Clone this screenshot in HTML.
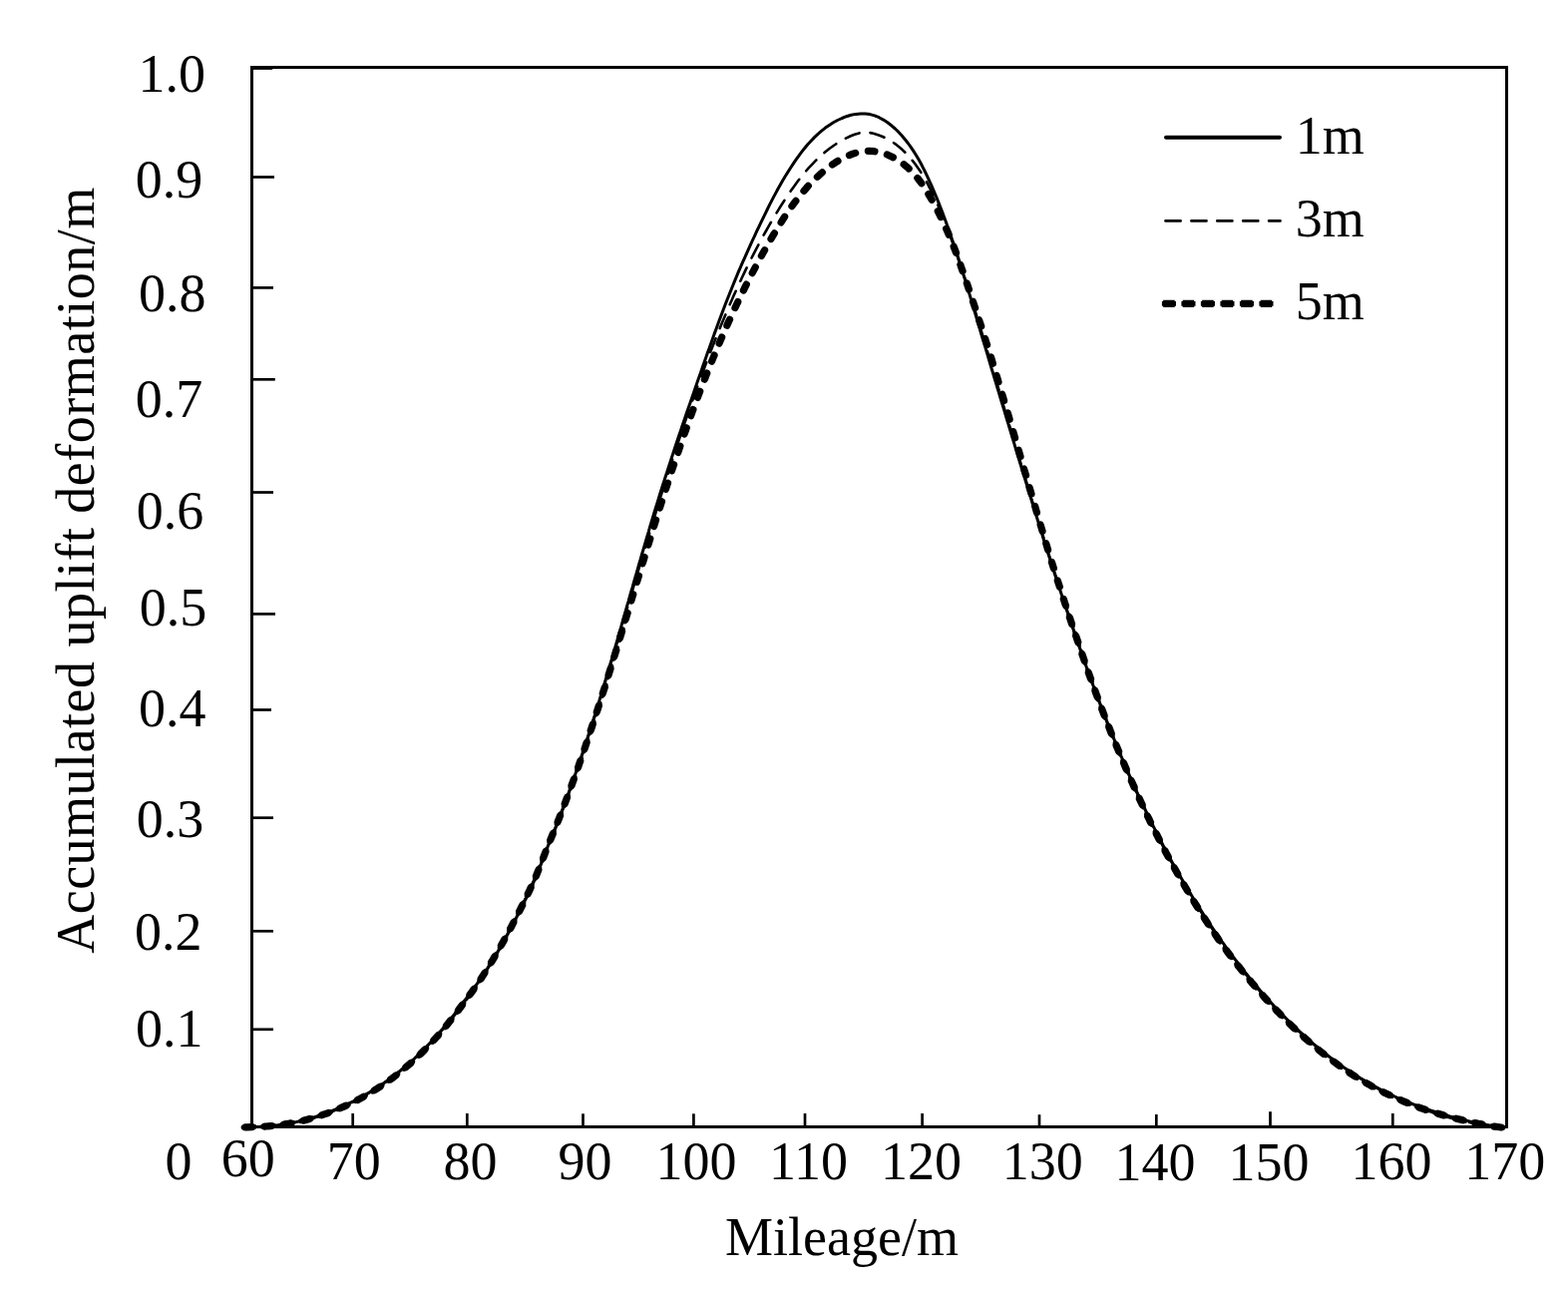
<!DOCTYPE html>
<html lang="en">
<head>
<meta charset="utf-8">
<title>Accumulated uplift deformation vs. mileage</title>
<style>
html,body{margin:0;padding:0;background:#fff;}
body{width:1572px;height:1292px;overflow:hidden;}
svg{display:block;}
text{font-family:"Liberation Serif",serif;font-size:54px;fill:#000;}
.ax{fill:none;stroke:#000;stroke-width:3;}
.tk{stroke:#000;stroke-width:2.7;fill:none;}
</style>
</head>
<body>
<svg width="1572" height="1292" viewBox="0 0 1572 1292">
<rect x="0" y="0" width="1572" height="1292" fill="#fff"/>
<g id="axes">
<rect class="ax" x="252.5" y="67.5" width="1258" height="1062"/>
<line class="tk" x1="253" y1="68.5" x2="273.2" y2="68.5" stroke-width="3.0"/>
<line class="tk" x1="253" y1="177.5" x2="275.0" y2="177.5" stroke-width="2.7"/>
<line class="tk" x1="253" y1="288.4" x2="274.0" y2="288.4" stroke-width="2.7"/>
<line class="tk" x1="253" y1="380.3" x2="275.8" y2="380.3" stroke-width="2.7"/>
<line class="tk" x1="253" y1="493.5" x2="274.0" y2="493.5" stroke-width="2.7"/>
<line class="tk" x1="253" y1="615.4" x2="276.0" y2="615.4" stroke-width="2.7"/>
<line class="tk" x1="253" y1="711.5" x2="272.0" y2="711.5" stroke-width="2.7"/>
<line class="tk" x1="253" y1="819.7" x2="274.0" y2="819.7" stroke-width="2.7"/>
<line class="tk" x1="253" y1="933.3" x2="274.0" y2="933.3" stroke-width="2.7"/>
<line class="tk" x1="253" y1="1031.8" x2="274.0" y2="1031.8" stroke-width="2.7"/>
<line class="tk" x1="353.7" y1="1129" x2="353.7" y2="1116.0" stroke-width="2.7"/>
<line class="tk" x1="468.3" y1="1129" x2="468.3" y2="1116.0" stroke-width="2.8"/>
<line class="tk" x1="584.5" y1="1129" x2="584.5" y2="1116.3" stroke-width="3.0"/>
<line class="tk" x1="695.4" y1="1129" x2="695.4" y2="1116.3" stroke-width="3.2"/>
<line class="tk" x1="807.0" y1="1129" x2="807.0" y2="1116.0" stroke-width="4.0"/>
<line class="tk" x1="924.6" y1="1129" x2="924.6" y2="1116.0" stroke-width="4.0"/>
<line class="tk" x1="1042.0" y1="1129" x2="1042.0" y2="1117.2" stroke-width="3.6"/>
<line class="tk" x1="1159.3" y1="1129" x2="1159.3" y2="1117.0" stroke-width="3.0"/>
<line class="tk" x1="1273.5" y1="1129" x2="1273.5" y2="1114.2" stroke-width="2.5"/>
<line class="tk" x1="1396.3" y1="1129" x2="1396.3" y2="1116.0" stroke-width="2.7"/>
</g>
<g id="curves" fill="none" stroke="#000" stroke-linejoin="round">
<path id="c1m" stroke-width="3" d="M252.5 1129.5L257.4 1129.4L262.2 1129.3L267.1 1129.0L271.9 1128.6L276.8 1128.1L281.6 1127.4L286.4 1126.7L291.1 1125.8L295.9 1124.9L300.6 1123.8L305.3 1122.6L310.0 1121.4L314.6 1120.0L319.2 1118.5L323.8 1116.9L328.3 1115.3L332.9 1113.5L337.3 1111.7L341.8 1109.7L346.2 1107.7L350.6 1105.7L354.9 1103.5L359.2 1101.3L363.4 1099.0L367.6 1096.6L371.8 1094.1L375.9 1091.6L380.0 1088.9L384.0 1086.2L387.9 1083.5L391.8 1080.6L395.7 1077.7L399.5 1074.8L403.2 1071.7L406.9 1068.6L410.5 1065.5L414.1 1062.3L417.6 1059.0L421.1 1055.7L424.5 1052.3L427.8 1048.9L431.2 1045.4L434.4 1041.8L437.7 1038.3L440.8 1034.6L444.0 1031.0L447.1 1027.2L450.1 1023.5L453.1 1019.7L456.1 1015.9L459.0 1012.0L461.9 1008.1L464.7 1004.2L467.7 1000.3L470.7 996.4L473.6 992.5L476.5 988.6L479.3 984.6L482.1 980.6L484.8 976.6L487.5 972.5L490.2 968.4L492.8 964.3L495.4 960.2L497.9 956.0L500.3 951.7L502.7 947.5L505.1 943.3L507.5 939.0L509.8 934.7L512.1 930.4L514.4 926.1L516.6 921.8L518.8 917.5L521.0 913.2L523.2 908.9L525.3 904.5L527.5 900.2L529.6 895.8L531.6 891.4L533.7 887.0L535.7 882.6L537.6 878.2L539.4 873.7L541.2 869.2L543.0 864.6L544.7 860.1L546.4 855.6L548.1 851.1L549.9 846.6L551.8 842.1L553.6 837.6L555.4 833.1L557.2 828.7L559.0 824.2L560.7 819.6L562.5 815.1L564.2 810.6L565.9 806.1L567.6 801.5L569.3 797.0L570.9 792.5L572.6 787.9L574.2 783.3L575.8 778.8L577.4 774.2L579.0 769.6L580.6 765.1L582.1 760.5L583.7 755.9L585.2 751.3L586.7 746.7L588.3 742.1L589.8 737.5L591.2 732.9L592.7 728.3L594.2 723.6L595.7 719.0L597.1 714.4L598.5 709.8L600.0 705.1L601.4 700.5L602.8 695.9L604.2 691.2L605.6 686.6L607.0 681.9L608.4 677.3L609.8 672.7L611.1 668.0L612.5 663.4L613.9 658.7L615.2 654.1L616.6 649.4L617.9 644.8L619.3 640.1L620.6 635.4L622.0 630.8L623.3 626.1L624.6 621.5L626.0 616.8L627.3 612.2L628.6 607.5L630.0 602.9L631.3 598.2L632.6 593.5L634.0 588.9L635.3 584.2L636.6 579.6L638.0 574.9L639.3 570.3L640.6 565.6L642.0 561.0L643.3 556.3L644.7 551.7L646.1 547.0L647.4 542.4L648.8 537.7L650.2 533.1L651.5 528.4L652.9 523.8L654.3 519.1L655.7 514.5L657.1 509.9L658.6 505.2L660.0 500.6L661.4 496.0L662.9 491.3L664.3 486.7L665.8 482.1L667.3 477.5L668.8 472.9L670.3 468.2L671.8 463.6L673.3 459.0L674.8 454.4L676.3 449.8L677.8 445.2L679.4 440.6L680.9 436.0L682.5 431.4L684.0 426.8L685.6 422.2L687.2 417.6L688.7 413.0L690.3 408.5L691.9 403.9L693.5 399.3L695.1 394.7L696.7 390.1L698.2 385.6L699.8 381.0L701.4 376.4L703.0 371.9L704.6 367.3L706.2 362.7L707.8 358.2L709.4 353.6L711.1 349.1L712.7 344.5L714.3 340.0L715.9 335.4L717.6 330.9L719.2 326.4L720.9 321.8L722.6 317.3L724.3 312.8L726.0 308.2L727.7 303.7L729.5 299.2L731.3 294.7L733.1 290.2L734.9 285.7L736.8 281.2L738.6 276.7L740.5 272.2L742.5 267.7L744.4 263.2L746.4 258.8L748.4 254.3L750.4 249.9L752.4 245.4L754.4 241.0L756.5 236.6L758.5 232.2L760.6 227.8L762.7 223.4L764.8 219.1L766.9 214.8L769.0 210.5L771.1 206.2L773.3 201.9L775.5 197.6L777.8 193.4L780.0 189.2L782.4 185.0L784.8 180.8L787.2 176.7L789.8 172.6L792.4 168.5L795.1 164.4L797.8 160.3L800.7 156.3L803.6 152.4L806.7 148.5L809.8 144.8L813.1 141.2L816.5 137.6L820.0 134.3L823.7 131.1L827.5 128.1L831.4 125.4L835.5 122.8L839.7 120.5L844.1 118.5L848.6 116.7L853.3 115.3L858.0 114.4L862.7 113.9L867.5 113.9L872.2 114.6L876.8 115.9L881.3 117.7L885.6 120.1L889.8 122.8L893.7 125.8L897.4 129.0L900.9 132.4L904.2 136.0L907.3 139.7L910.3 143.5L913.1 147.4L915.8 151.4L918.4 155.5L920.8 159.6L923.2 163.8L925.4 168.1L927.6 172.5L929.7 176.8L931.7 181.3L933.7 185.7L935.6 190.2L937.5 194.6L939.4 199.1L941.2 203.6L942.9 208.1L944.7 212.6L946.4 217.2L948.1 221.7L949.7 226.3L951.4 230.8L953.0 235.4L954.5 240.0L956.1 244.5L957.6 249.1L959.1 253.7L960.6 258.3L962.1 263.0L963.6 267.6L965.0 272.2L966.4 276.8L967.9 281.4L969.3 286.1L970.7 290.7L972.1 295.4L973.5 300.0L974.8 304.6L976.2 309.3L977.6 313.9L979.0 318.6L980.4 323.2L981.8 327.9L983.1 332.5L984.5 337.2L985.9 341.8L987.3 346.4L988.7 351.1L990.1 355.7L991.4 360.4L992.8 365.0L994.2 369.7L995.6 374.3L997.0 379.0L998.4 383.6L999.8 388.2L1001.2 392.9L1002.6 397.5L1004.0 402.2L1005.4 406.8L1006.8 411.4L1008.2 416.1L1009.6 420.7L1011.0 425.4L1012.4 430.0L1013.8 434.6L1015.2 439.3L1016.6 443.9L1018.0 448.6L1019.4 453.2L1020.8 457.8L1022.2 462.5L1023.6 467.1L1025.0 471.7L1026.5 476.4L1027.9 481.0L1029.3 485.6L1030.7 490.3L1032.2 494.9L1033.6 499.5L1035.0 504.2L1036.4 508.8L1037.9 513.4L1039.3 518.0L1040.8 522.7L1042.2 527.3L1043.6 531.9L1045.1 536.5L1046.5 541.2L1048.0 545.8L1049.4 550.4L1050.9 555.0L1052.4 559.6L1053.8 564.2L1055.3 568.8L1056.8 573.4L1058.3 578.1L1059.8 582.7L1061.4 587.3L1062.9 591.8L1064.4 596.4L1065.9 601.0L1067.5 605.6L1069.0 610.2L1070.6 614.8L1072.1 619.4L1073.7 624.0L1075.3 628.5L1076.8 633.1L1078.4 637.7L1080.0 642.3L1081.6 646.8L1083.2 651.4L1084.8 656.0L1086.4 660.5L1088.0 665.1L1089.6 669.7L1091.3 674.2L1092.9 678.8L1094.6 683.3L1096.3 687.9L1098.0 692.4L1099.7 697.0L1101.4 701.5L1103.1 706.0L1104.8 710.5L1106.6 715.1L1108.4 719.6L1110.1 724.1L1111.9 728.6L1113.7 733.1L1115.6 737.6L1117.4 742.1L1119.2 746.6L1121.1 751.1L1123.0 755.5L1124.9 760.0L1126.8 764.4L1128.7 768.9L1130.7 773.3L1132.6 777.8L1134.6 782.2L1136.6 786.6L1138.6 791.1L1140.6 795.5L1142.6 799.9L1144.7 804.3L1146.7 808.6L1148.8 813.0L1150.9 817.4L1153.1 821.7L1155.2 826.1L1157.4 830.4L1159.5 834.7L1161.8 839.0L1164.0 843.3L1166.2 847.6L1168.5 851.9L1170.8 856.2L1173.1 860.4L1175.4 864.6L1177.8 868.9L1180.2 873.1L1182.6 877.3L1185.0 881.5L1187.4 885.6L1189.9 889.8L1192.4 893.9L1194.9 898.1L1197.4 902.2L1200.0 906.3L1202.6 910.4L1205.2 914.4L1207.8 918.5L1210.5 922.5L1213.2 926.6L1215.9 930.6L1218.6 934.5L1221.4 938.5L1224.2 942.5L1227.0 946.4L1229.8 950.3L1232.7 954.2L1235.6 958.1L1238.5 962.0L1241.5 965.8L1244.4 969.7L1247.4 973.5L1250.5 977.3L1253.5 981.1L1256.6 984.8L1259.8 988.5L1262.9 992.3L1266.1 995.9L1269.3 999.6L1272.6 1003.2L1275.9 1006.8L1279.2 1010.4L1282.6 1013.9L1286.0 1017.4L1289.4 1020.9L1292.9 1024.3L1296.3 1027.7L1299.9 1031.1L1303.4 1034.4L1307.0 1037.7L1310.6 1040.9L1314.3 1044.1L1318.0 1047.3L1321.7 1050.4L1325.5 1053.5L1329.3 1056.5L1333.1 1059.5L1337.0 1062.4L1340.9 1065.3L1344.8 1068.1L1348.8 1070.9L1352.8 1073.6L1356.8 1076.2L1360.9 1078.8L1365.0 1081.4L1369.2 1083.8L1373.4 1086.3L1377.6 1088.6L1381.9 1090.9L1386.2 1093.2L1390.5 1095.3L1394.9 1097.5L1399.3 1099.5L1403.7 1101.5L1408.2 1103.4L1412.7 1105.2L1417.2 1107.0L1421.8 1108.7L1426.4 1110.3L1431.0 1111.9L1435.6 1113.5L1440.2 1115.0L1444.8 1116.4L1449.5 1117.8L1454.2 1119.1L1458.9 1120.4L1463.6 1121.6L1468.3 1122.8L1473.0 1123.9L1477.7 1124.9L1482.5 1125.9L1487.2 1126.9L1492.0 1127.8L1496.7 1128.7L1501.5 1129.5"/>
<path id="c3m" stroke-width="2.6" stroke-linecap="round" stroke-dasharray="14.80 11.00" stroke-dashoffset="24.30" d="M252.5 1129.5L257.5 1129.5L262.6 1129.3L267.5 1129.0L272.4 1128.6L277.3 1128.1L282.2 1127.5L287.0 1126.8L291.8 1126.0L296.5 1125.1L301.2 1124.1L305.8 1122.9L310.4 1121.7L315.0 1120.4L319.5 1119.0L324.0 1117.5L328.4 1115.9L332.8 1114.2L337.2 1112.4L341.5 1110.5L345.8 1108.5L350.0 1106.5L354.2 1104.4L358.4 1102.2L362.5 1099.9L366.5 1097.5L370.6 1095.1L374.6 1092.6L378.5 1090.0L382.4 1087.4L386.3 1084.6L390.1 1081.8L393.9 1079.0L397.7 1076.1L401.4 1073.1L405.0 1070.1L408.7 1067.0L412.2 1063.8L415.8 1060.6L419.3 1057.4L422.7 1054.0L426.2 1050.7L429.5 1047.3L432.9 1043.8L436.2 1040.3L439.4 1036.8L442.6 1033.2L445.8 1029.6L448.9 1025.9L452.0 1022.2L455.0 1018.5L458.0 1014.7L461.0 1010.9L463.9 1007.1L466.8 1003.2L469.6 999.3L472.4 995.4L475.2 991.5L477.9 987.5L480.6 983.5L483.2 979.5L485.8 975.5L488.4 971.5L490.9 967.4L493.4 963.3L495.8 959.2L498.3 955.1L500.7 951.0L503.0 946.8L505.3 942.6L507.6 938.4L509.9 934.2L512.1 930.0L514.3 925.8L516.5 921.5L518.7 917.2L520.8 913.0L522.9 908.7L525.0 904.4L527.0 900.1L529.0 895.7L531.1 891.4L533.0 887.1L535.0 882.7L536.9 878.4L538.9 874.0L540.8 869.6L542.6 865.2L544.5 860.8L546.4 856.4L548.2 852.0L550.0 847.6L551.8 843.2L553.6 838.8L555.3 834.3L557.1 829.9L558.8 825.5L560.5 821.0L562.2 816.6L563.9 812.1L565.6 807.6L567.2 803.2L568.9 798.7L570.5 794.2L572.1 789.7L573.7 785.2L575.3 780.7L576.9 776.2L578.4 771.7L580.0 767.2L581.5 762.7L583.1 758.1L584.6 753.6L586.1 749.1L587.6 744.6L589.1 740.0L590.5 735.5L592.0 730.9L593.5 726.4L594.9 721.8L596.4 717.3L597.8 712.7L599.2 708.2L600.7 703.6L602.1 699.0L603.5 694.5L604.9 689.9L606.3 685.3L607.7 680.7L609.1 676.2L610.5 671.6L611.8 667.0L613.2 662.4L614.6 657.8L615.9 653.2L617.3 648.7L618.7 644.1L620.0 639.5L621.4 634.9L622.7 630.3L624.1 625.7L625.4 621.1L626.8 616.5L628.1 611.9L629.5 607.4L630.8 602.8L632.2 598.2L633.6 593.6L634.9 589.0L636.3 584.4L637.6 579.8L639.0 575.2L640.3 570.6L641.7 566.1L643.1 561.5L644.4 556.9L645.8 552.3L647.2 547.7L648.5 543.1L649.9 538.6L651.3 534.0L652.7 529.4L654.1 524.8L655.5 520.3L656.9 515.7L658.3 511.1L659.7 506.5L661.1 502.0L662.5 497.4L663.9 492.9L665.4 488.3L666.8 483.7L668.2 479.2L669.7 474.6L671.1 470.1L672.6 465.5L674.1 461.0L675.6 456.4L677.0 451.9L678.5 447.4L680.0 442.8L681.6 438.3L683.1 433.8L684.6 429.3L686.1 424.7L687.7 420.2L689.2 415.7L690.8 411.2L692.4 406.7L694.0 402.2L695.6 397.7L697.2 393.2L698.8 388.7L700.4 384.2L702.1 379.7L703.7 375.3L705.4 370.8L707.1 366.3L708.8 361.9L710.5 357.4L712.2 352.9L713.9 348.5L715.7 344.1L717.4 339.6L719.2 335.2L721.0 330.8L722.8 326.3L724.6 321.9L726.5 317.5L728.3 313.1L730.2 308.7L732.1 304.3L734.0 300.0L735.9 295.6L737.9 291.3L739.9 286.9L741.9 282.6L743.9 278.3L746.0 273.9L748.0 269.6L750.2 265.4L752.3 261.1L754.4 256.8L756.6 252.6L758.8 248.3L761.1 244.1L763.3 239.9L765.6 235.7L768.0 231.5L770.3 227.4L772.7 223.2L775.2 219.1L777.6 215.0L780.1 210.9L782.6 206.8L785.2 202.8L787.8 198.7L790.5 194.7L793.2 190.8L796.0 186.9L798.8 183.0L801.7 179.2L804.7 175.5L807.7 171.8L810.9 168.2L814.1 164.8L817.4 161.4L820.8 158.1L824.4 154.9L828.0 151.8L831.8 148.8L835.7 146.0L839.7 143.3L843.8 140.8L848.0 138.6L852.4 136.5L856.8 134.7L861.4 133.4L866.1 132.7L870.8 132.8L875.6 133.7L880.3 135.2L884.9 137.0L889.2 139.0L893.3 141.4L897.3 144.1L901.0 147.0L904.6 150.1L908.1 153.4L911.3 156.9L914.4 160.5L917.4 164.3L920.2 168.2L922.9 172.1L925.4 176.2L927.8 180.3L930.1 184.5L932.3 188.8L934.5 193.1L936.5 197.4L938.5 201.8L940.5 206.1L942.4 210.5L944.2 214.9L946.0 219.4L947.8 223.8L949.5 228.3L951.2 232.7L952.9 237.2L954.5 241.7L956.1 246.2L957.7 250.7L959.3 255.2L960.8 259.7L962.3 264.2L963.8 268.8L965.3 273.3L966.8 277.8L968.3 282.4L969.8 286.9L971.3 291.4L972.7 296.0L974.1 300.6L975.6 305.1L977.0 309.7L978.4 314.2L979.8 318.8L981.2 323.4L982.6 327.9L984.0 332.5L985.4 337.1L986.8 341.6L988.1 346.2L989.5 350.8L990.9 355.4L992.2 360.0L993.6 364.5L995.0 369.1L996.3 373.7L997.7 378.3L999.0 382.9L1000.4 387.4L1001.8 392.0L1003.1 396.6L1004.5 401.2L1005.8 405.8L1007.2 410.4L1008.6 414.9L1009.9 419.5L1011.3 424.1L1012.7 428.7L1014.0 433.3L1015.4 437.9L1016.8 442.4L1018.1 447.0L1019.5 451.6L1020.9 456.2L1022.3 460.8L1023.6 465.3L1025.0 469.9L1026.4 474.5L1027.8 479.1L1029.2 483.6L1030.6 488.2L1032.0 492.8L1033.3 497.4L1034.7 501.9L1036.2 506.5L1037.6 511.1L1039.0 515.6L1040.4 520.2L1041.8 524.8L1043.2 529.3L1044.6 533.9L1046.1 538.5L1047.5 543.0L1048.9 547.6L1050.4 552.2L1051.8 556.7L1053.3 561.3L1054.7 565.8L1056.2 570.4L1057.7 574.9L1059.1 579.5L1060.6 584.0L1062.1 588.6L1063.6 593.1L1065.1 597.6L1066.6 602.2L1068.1 606.7L1069.6 611.2L1071.1 615.8L1072.6 620.3L1074.2 624.8L1075.7 629.4L1077.2 633.9L1078.8 638.4L1080.3 642.9L1081.9 647.4L1083.5 651.9L1085.0 656.4L1086.6 661.0L1088.2 665.5L1089.8 670.0L1091.4 674.4L1093.1 678.9L1094.7 683.4L1096.3 687.9L1098.0 692.4L1099.6 696.9L1101.3 701.3L1103.0 705.8L1104.7 710.3L1106.4 714.7L1108.1 719.2L1109.8 723.6L1111.6 728.1L1113.3 732.5L1115.1 736.9L1116.9 741.4L1118.7 745.8L1120.5 750.2L1122.3 754.6L1124.1 759.0L1126.0 763.4L1127.9 767.8L1129.8 772.2L1131.7 776.5L1133.6 780.9L1135.5 785.3L1137.5 789.6L1139.4 794.0L1141.4 798.3L1143.4 802.6L1145.4 806.9L1147.5 811.3L1149.5 815.6L1151.6 819.9L1153.7 824.1L1155.8 828.4L1157.9 832.7L1160.1 836.9L1162.3 841.2L1164.5 845.4L1166.7 849.7L1168.9 853.9L1171.2 858.1L1173.5 862.3L1175.8 866.5L1178.1 870.7L1180.5 874.9L1182.8 879.0L1185.2 883.2L1187.7 887.3L1190.1 891.4L1192.6 895.6L1195.1 899.7L1197.6 903.8L1200.1 907.8L1202.7 911.9L1205.3 916.0L1207.9 920.0L1210.6 924.0L1213.3 928.0L1216.0 932.0L1218.7 936.0L1221.4 940.0L1224.2 943.9L1227.0 947.8L1229.9 951.7L1232.7 955.6L1235.6 959.5L1238.5 963.3L1241.5 967.1L1244.4 970.9L1247.4 974.7L1250.4 978.4L1253.5 982.1L1256.6 985.8L1259.7 989.4L1262.8 993.1L1266.0 996.7L1269.2 1000.2L1272.4 1003.8L1275.6 1007.3L1278.9 1010.7L1282.2 1014.2L1285.5 1017.6L1288.9 1021.0L1292.3 1024.3L1295.7 1027.6L1299.2 1030.8L1302.6 1034.1L1306.1 1037.3L1309.7 1040.4L1313.2 1043.5L1316.8 1046.6L1320.5 1049.6L1324.1 1052.6L1327.8 1055.5L1331.5 1058.4L1335.3 1061.3L1339.1 1064.1L1342.9 1066.9L1346.7 1069.6L1350.6 1072.2L1354.5 1074.9L1358.4 1077.4L1362.4 1079.9L1366.4 1082.4L1370.4 1084.8L1374.5 1087.2L1378.6 1089.5L1382.7 1091.8L1386.8 1094.0L1391.0 1096.2L1395.2 1098.3L1399.5 1100.3L1403.8 1102.3L1408.1 1104.2L1412.5 1106.1L1416.8 1107.9L1421.2 1109.6L1425.7 1111.3L1430.2 1113.0L1434.7 1114.5L1439.2 1116.0L1443.8 1117.5L1448.4 1118.8L1453.1 1120.2L1457.8 1121.4L1462.5 1122.6L1467.3 1123.7L1472.0 1124.7L1476.9 1125.7L1481.7 1126.6L1486.6 1127.4L1491.5 1128.2L1496.5 1128.9L1501.5 1129.5"/>
<path id="c5m" stroke-width="7.2" stroke-linecap="round" stroke-dasharray="6.60 12.88" stroke-dashoffset="17.35" d="M244.0 1130.0L247.6 1129.9L257.2 1129.4L261.9 1129.3L266.7 1129.0L271.4 1128.6L276.1 1128.1L280.7 1127.6L285.4 1126.9L290.1 1126.1L294.7 1125.2L299.3 1124.2L303.9 1123.2L308.5 1122.0L313.0 1120.7L317.6 1119.4L322.1 1117.9L326.6 1116.4L331.0 1114.8L335.4 1113.1L339.8 1111.3L344.2 1109.4L348.5 1107.5L352.8 1105.4L357.0 1103.3L361.2 1101.1L365.3 1098.8L369.4 1096.4L373.5 1094.0L377.5 1091.5L381.5 1088.9L385.4 1086.3L389.2 1083.6L393.1 1080.8L396.8 1078.0L400.5 1075.1L404.1 1072.1L407.7 1069.1L411.3 1066.0L414.8 1062.9L418.2 1059.7L421.6 1056.4L424.9 1053.1L428.2 1049.8L431.4 1046.4L434.6 1042.9L437.8 1039.4L440.9 1035.9L443.9 1032.3L446.9 1028.7L449.9 1025.0L452.8 1021.3L455.7 1017.6L458.6 1013.8L461.4 1010.0L464.2 1006.2L467.0 1002.4L469.8 998.6L472.6 994.8L475.4 990.9L478.1 987.0L480.8 983.1L483.4 979.1L486.0 975.1L488.5 971.1L491.0 967.0L493.5 963.0L495.9 958.9L498.3 954.8L500.7 950.7L503.0 946.5L505.3 942.4L507.6 938.2L509.8 934.1L512.1 929.9L514.3 925.7L516.5 921.5L518.6 917.3L520.8 913.1L522.9 908.9L525.0 904.7L527.0 900.4L529.1 896.2L531.1 891.9L533.1 887.6L535.1 883.4L537.0 879.1L538.8 874.7L540.5 870.3L542.3 865.9L544.0 861.5L545.7 857.1L547.4 852.7L549.1 848.3L550.9 844.0L552.7 839.6L554.5 835.3L556.3 830.9L558.0 826.5L559.8 822.2L561.5 817.8L563.2 813.4L564.9 809.0L566.6 804.6L568.2 800.2L569.9 795.8L571.5 791.3L573.2 786.9L574.8 782.5L576.4 778.1L578.0 773.6L579.6 769.2L581.1 764.7L582.7 760.3L584.2 755.8L585.8 751.4L587.3 746.9L588.8 742.4L590.3 737.9L591.8 733.5L593.3 729.0L594.8 724.5L596.3 720.0L597.7 715.5L599.2 711.0L600.6 706.6L602.1 702.1L603.5 697.6L604.9 693.1L606.4 688.6L607.8 684.1L609.2 679.5L610.6 675.0L612.0 670.5L613.4 666.0L614.8 661.5L616.2 657.0L617.6 652.5L618.9 648.0L620.3 643.5L621.7 638.9L623.1 634.4L624.5 629.9L625.8 625.4L627.2 620.9L628.6 616.3L629.9 611.8L631.3 607.3L632.7 602.8L634.0 598.3L635.4 593.8L636.8 589.2L638.1 584.7L639.5 580.2L640.9 575.7L642.2 571.2L643.6 566.6L645.0 562.1L646.4 557.6L647.7 553.1L649.1 548.6L650.5 544.1L651.9 539.6L653.3 535.1L654.7 530.6L656.1 526.0L657.5 521.5L658.9 517.0L660.4 512.5L661.8 508.0L663.2 503.5L664.6 499.1L666.1 494.6L667.5 490.1L669.0 485.6L670.5 481.1L671.9 476.6L673.4 472.1L674.9 467.7L676.4 463.2L677.9 458.7L679.4 454.3L681.0 449.8L682.5 445.3L684.0 440.9L685.6 436.4L687.2 432.0L688.7 427.5L690.3 423.1L691.9 418.7L693.5 414.2L695.2 409.8L696.8 405.4L698.5 400.9L700.1 396.5L701.8 392.1L703.5 387.7L705.2 383.3L706.9 378.9L708.6 374.5L710.4 370.1L712.1 365.7L713.9 361.4L715.7 357.0L717.5 352.6L719.3 348.3L721.2 343.9L723.0 339.6L724.9 335.3L726.8 330.9L728.7 326.6L730.6 322.3L732.6 318.0L734.6 313.7L736.6 309.4L738.6 305.1L740.6 300.9L742.6 296.6L744.7 292.4L746.8 288.2L748.9 284.0L751.0 279.7L753.2 275.6L755.4 271.4L757.6 267.2L759.8 263.1L762.0 258.9L764.3 254.8L766.6 250.7L768.9 246.6L771.3 242.5L773.6 238.4L776.0 234.4L778.5 230.4L780.9 226.3L783.4 222.4L785.9 218.4L788.5 214.5L791.2 210.6L793.9 206.7L796.7 202.9L799.5 199.2L802.5 195.5L805.5 191.9L808.6 188.3L811.8 184.8L815.1 181.4L818.6 178.0L822.1 174.8L825.8 171.6L829.6 168.5L833.5 165.6L837.5 162.9L841.6 160.4L845.8 158.1L850.1 156.1L854.4 154.4L858.7 153.0L863.2 152.1L867.6 151.5L872.1 151.3L876.6 151.7L881.1 152.4L885.6 153.6L890.0 155.2L894.3 157.2L898.5 159.5L902.6 162.1L906.4 164.9L910.1 168.0L913.6 171.3L916.8 174.8L919.9 178.5L922.8 182.3L925.5 186.2L928.2 190.2L930.7 194.3L933.1 198.4L935.5 202.6L937.7 206.7L939.9 210.9L942.0 215.2L944.1 219.4L946.1 223.7L948.1 228.0L950.0 232.3L951.8 236.6L953.6 240.9L955.4 245.3L957.1 249.6L958.7 254.0L960.4 258.4L962.0 262.9L963.5 267.3L965.1 271.7L966.7 276.1L968.2 280.6L969.7 285.0L971.2 289.5L972.7 294.0L974.2 298.4L975.7 302.9L977.2 307.3L978.7 311.8L980.2 316.3L981.6 320.8L983.1 325.2L984.6 329.7L986.0 334.2L987.4 338.7L988.8 343.2L990.3 347.7L991.7 352.2L993.1 356.7L994.5 361.3L995.8 365.8L997.2 370.3L998.6 374.8L1000.0 379.3L1001.3 383.9L1002.7 388.4L1004.0 392.9L1005.4 397.4L1006.7 402.0L1008.1 406.5L1009.4 411.0L1010.8 415.6L1012.1 420.1L1013.4 424.6L1014.8 429.1L1016.1 433.7L1017.4 438.2L1018.7 442.8L1020.1 447.3L1021.4 451.8L1022.7 456.4L1024.0 460.9L1025.3 465.4L1026.6 470.0L1028.0 474.5L1029.3 479.0L1030.6 483.6L1031.9 488.1L1033.3 492.6L1034.6 497.1L1035.9 501.7L1037.3 506.2L1038.6 510.7L1039.9 515.2L1041.3 519.8L1042.6 524.3L1044.0 528.8L1045.3 533.3L1046.7 537.8L1048.0 542.4L1049.4 546.9L1050.7 551.4L1052.1 555.9L1053.5 560.4L1054.9 564.9L1056.3 569.4L1057.7 573.9L1059.2 578.4L1060.6 582.9L1062.1 587.4L1063.5 591.9L1065.0 596.3L1066.4 600.8L1067.9 605.3L1069.4 609.8L1070.8 614.3L1072.3 618.7L1073.8 623.2L1075.4 627.7L1076.9 632.1L1078.4 636.6L1079.9 641.0L1081.4 645.5L1082.9 650.0L1084.4 654.4L1086.0 658.9L1087.5 663.3L1089.1 667.8L1090.6 672.2L1092.2 676.7L1093.8 681.1L1095.4 685.6L1097.0 690.0L1098.6 694.4L1100.3 698.9L1101.9 703.3L1103.6 707.7L1105.2 712.1L1106.9 716.5L1108.6 720.9L1110.3 725.3L1112.1 729.7L1113.8 734.1L1115.6 738.5L1117.4 742.9L1119.2 747.3L1121.0 751.6L1122.8 756.0L1124.6 760.3L1126.5 764.7L1128.3 769.0L1130.2 773.3L1132.1 777.7L1134.0 782.0L1135.9 786.3L1137.9 790.6L1139.8 794.9L1141.7 799.2L1143.7 803.5L1145.7 807.8L1147.7 812.1L1149.7 816.4L1151.8 820.6L1153.8 824.9L1155.9 829.1L1158.0 833.3L1160.2 837.5L1162.3 841.7L1164.5 845.9L1166.6 850.1L1168.8 854.3L1171.1 858.5L1173.3 862.6L1175.6 866.7L1177.9 870.9L1180.2 875.0L1182.5 879.1L1184.9 883.2L1187.2 887.2L1189.6 891.3L1192.0 895.4L1194.4 899.4L1196.9 903.5L1199.4 907.5L1201.8 911.5L1204.4 915.5L1206.9 919.5L1209.5 923.4L1212.0 927.4L1214.7 931.3L1217.3 935.2L1220.0 939.1L1222.6 943.0L1225.4 946.9L1228.1 950.7L1230.9 954.5L1233.8 958.3L1236.6 962.1L1239.5 965.8L1242.5 969.6L1245.4 973.3L1248.4 977.0L1251.4 980.6L1254.4 984.3L1257.5 987.9L1260.6 991.5L1263.7 995.1L1266.8 998.7L1270.0 1002.2L1273.2 1005.7L1276.4 1009.2L1279.7 1012.7L1283.0 1016.1L1286.3 1019.5L1289.6 1022.9L1293.0 1026.3L1296.4 1029.6L1299.9 1032.8L1303.4 1036.1L1306.9 1039.3L1310.4 1042.4L1314.0 1045.6L1317.6 1048.6L1321.2 1051.7L1324.9 1054.7L1328.6 1057.6L1332.3 1060.5L1336.1 1063.4L1339.9 1066.2L1343.8 1069.0L1347.6 1071.7L1351.5 1074.3L1355.5 1076.9L1359.5 1079.5L1363.5 1082.0L1367.6 1084.4L1371.7 1086.7L1375.9 1089.0L1380.1 1091.2L1384.3 1093.4L1388.5 1095.5L1392.8 1097.5L1397.1 1099.5L1401.5 1101.4L1405.8 1103.3L1410.2 1105.1L1414.6 1106.9L1419.0 1108.6L1423.5 1110.3L1428.0 1111.9L1432.5 1113.4L1437.0 1114.8L1441.6 1116.2L1446.1 1117.5L1450.7 1118.8L1455.3 1120.0L1459.9 1121.2L1464.5 1122.3L1469.1 1123.4L1473.7 1124.4L1478.3 1125.4L1482.9 1126.4L1487.6 1127.3L1492.2 1128.1L1496.8 1128.9L1501.5 1129.5L1507.0 1130.3"/>
<path id="c5m-a" stroke-width="5.0" stroke-linecap="round" stroke-dasharray="11.40 8.08" stroke-dashoffset="0.27" d="M244.0 1130.0L247.6 1129.9L257.2 1129.4L261.9 1129.3L266.7 1129.0L271.4 1128.6L276.1 1128.1L280.7 1127.6L285.4 1126.9L290.1 1126.1L294.7 1125.2L299.3 1124.2L303.9 1123.2L308.5 1122.0L313.0 1120.7L317.6 1119.4L322.1 1117.9L326.6 1116.4L331.0 1114.8L335.4 1113.1L339.8 1111.3L344.2 1109.4L348.5 1107.5L352.8 1105.4L357.0 1103.3L361.2 1101.1L365.3 1098.8L369.4 1096.4L373.5 1094.0L377.5 1091.5L381.5 1088.9L385.4 1086.3L389.2 1083.6L393.1 1080.8L396.8 1078.0L400.5 1075.1L404.1 1072.1L407.7 1069.1L411.3 1066.0L414.8 1062.9L418.2 1059.7L421.6 1056.4L424.9 1053.1L428.2 1049.8L431.4 1046.4L434.6 1042.9L437.8 1039.4L440.9 1035.9L443.9 1032.3L446.9 1028.7L449.9 1025.0L452.8 1021.3L455.7 1017.6L458.6 1013.8L461.4 1010.0L464.2 1006.2L467.0 1002.4L469.8 998.6L472.6 994.8L475.4 990.9L478.1 987.0L480.8 983.1L483.4 979.1L486.0 975.1L488.5 971.1L491.0 967.0L493.5 963.0L495.9 958.9L498.3 954.8L500.7 950.7L503.0 946.5L505.3 942.4L507.6 938.2L509.8 934.1L512.1 929.9L514.3 925.7L516.5 921.5L518.6 917.3L520.8 913.1L522.9 908.9L525.0 904.7L527.0 900.4L529.1 896.2L531.1 891.9L533.1 887.6L535.1 883.4L537.0 879.1L538.8 874.7L540.5 870.3L542.3 865.9L544.0 861.5L545.7 857.1L547.4 852.7L549.1 848.3L550.9 844.0L552.7 839.6L554.5 835.3L556.3 830.9L558.0 826.5L559.8 822.2L561.5 817.8L563.2 813.4L564.9 809.0L566.6 804.6L568.2 800.2L569.9 795.8L571.5 791.3L573.2 786.9L574.8 782.5L576.4 778.1L578.0 773.6L579.6 769.2L581.1 764.7L582.7 760.3L584.2 755.8L585.8 751.4L587.3 746.9L588.8 742.4L590.3 737.9L591.8 733.5L593.3 729.0L594.8 724.5L596.3 720.0L597.7 715.5L599.2 711.0L600.6 706.6L602.1 702.1L603.5 697.6L604.9 693.1L606.4 688.6L607.8 684.1L609.2 679.5L610.6 675.0L612.0 670.5L613.4 666.0L614.8 661.5L616.2 657.0L617.6 652.5L618.9 648.0L620.3 643.5L621.7 638.9L623.1 634.4L624.5 629.9L625.8 625.4L627.2 620.9"/>
<path id="c5m-b" stroke-width="5.0" stroke-linecap="round" stroke-dasharray="11.40 8.08" stroke-dashoffset="2.74" d="M1066.4 600.8L1067.9 605.3L1069.4 609.8L1070.8 614.3L1072.3 618.7L1073.8 623.2L1075.4 627.7L1076.9 632.1L1078.4 636.6L1079.9 641.0L1081.4 645.5L1082.9 650.0L1084.4 654.4L1086.0 658.9L1087.5 663.3L1089.1 667.8L1090.6 672.2L1092.2 676.7L1093.8 681.1L1095.4 685.6L1097.0 690.0L1098.6 694.4L1100.3 698.9L1101.9 703.3L1103.6 707.7L1105.2 712.1L1106.9 716.5L1108.6 720.9L1110.3 725.3L1112.1 729.7L1113.8 734.1L1115.6 738.5L1117.4 742.9L1119.2 747.3L1121.0 751.6L1122.8 756.0L1124.6 760.3L1126.5 764.7L1128.3 769.0L1130.2 773.3L1132.1 777.7L1134.0 782.0L1135.9 786.3L1137.9 790.6L1139.8 794.9L1141.7 799.2L1143.7 803.5L1145.7 807.8L1147.7 812.1L1149.7 816.4L1151.8 820.6L1153.8 824.9L1155.9 829.1L1158.0 833.3L1160.2 837.5L1162.3 841.7L1164.5 845.9L1166.6 850.1L1168.8 854.3L1171.1 858.5L1173.3 862.6L1175.6 866.7L1177.9 870.9L1180.2 875.0L1182.5 879.1L1184.9 883.2L1187.2 887.2L1189.6 891.3L1192.0 895.4L1194.4 899.4L1196.9 903.5L1199.4 907.5L1201.8 911.5L1204.4 915.5L1206.9 919.5L1209.5 923.4L1212.0 927.4L1214.7 931.3L1217.3 935.2L1220.0 939.1L1222.6 943.0L1225.4 946.9L1228.1 950.7L1230.9 954.5L1233.8 958.3L1236.6 962.1L1239.5 965.8L1242.5 969.6L1245.4 973.3L1248.4 977.0L1251.4 980.6L1254.4 984.3L1257.5 987.9L1260.6 991.5L1263.7 995.1L1266.8 998.7L1270.0 1002.2L1273.2 1005.7L1276.4 1009.2L1279.7 1012.7L1283.0 1016.1L1286.3 1019.5L1289.6 1022.9L1293.0 1026.3L1296.4 1029.6L1299.9 1032.8L1303.4 1036.1L1306.9 1039.3L1310.4 1042.4L1314.0 1045.6L1317.6 1048.6L1321.2 1051.7L1324.9 1054.7L1328.6 1057.6L1332.3 1060.5L1336.1 1063.4L1339.9 1066.2L1343.8 1069.0L1347.6 1071.7L1351.5 1074.3L1355.5 1076.9L1359.5 1079.5L1363.5 1082.0L1367.6 1084.4L1371.7 1086.7L1375.9 1089.0L1380.1 1091.2L1384.3 1093.4L1388.5 1095.5L1392.8 1097.5L1397.1 1099.5L1401.5 1101.4L1405.8 1103.3L1410.2 1105.1L1414.6 1106.9L1419.0 1108.6L1423.5 1110.3L1428.0 1111.9L1432.5 1113.4L1437.0 1114.8L1441.6 1116.2L1446.1 1117.5L1450.7 1118.8L1455.3 1120.0L1459.9 1121.2L1464.5 1122.3L1469.1 1123.4L1473.7 1124.4L1478.3 1125.4L1482.9 1126.4L1487.6 1127.3L1492.2 1128.1L1496.8 1128.9L1501.5 1129.5L1507.0 1130.3"/>
</g>
<g id="legend" fill="none" stroke="#000">
<line x1="1169" y1="137.8" x2="1283" y2="137.8" stroke-width="4" stroke-linecap="round"/>
<line x1="1168.5" y1="221.4" x2="1283.5" y2="221.4" stroke-width="2.7" stroke-linecap="round" stroke-dasharray="15.1 10.8"/>
<line x1="1166.2" y1="304.4" x2="1276.6" y2="304.4" stroke-width="7.2" stroke-dasharray="11.5 8"/>
<line x1="1164.9" y1="304.4" x2="1276.6" y2="304.4" stroke-width="4.6" stroke-dasharray="14.1 5.4"/>
</g>
<g id="legend-labels">
<text x="1298.7" y="153.5">1m</text>
<text x="1298.7" y="236.5">3m</text>
<text x="1298.7" y="320.3">5m</text>
</g>
<g id="ylabels">
<text x="138.4" y="91.8">1.0</text>
<text x="135.8" y="197.5">0.9</text>
<text x="138.9" y="311.5">0.8</text>
<text x="135.8" y="417.9">0.7</text>
<text x="136.8" y="529.8">0.6</text>
<text x="139.7" y="627.3">0.5</text>
<text x="138.9" y="727.5">0.4</text>
<text x="136.8" y="839.0">0.3</text>
<text x="135.0" y="952.3">0.2</text>
<text x="135.9" y="1049.4">0.1</text>
</g>
<g id="xlabels">
<text x="165.4" y="1181.5">0</text>
<text x="221.7" y="1179.0">60</text>
<text x="327.7" y="1181.7">70</text>
<text x="444.6" y="1181.5">80</text>
<text x="559.5" y="1181.5">90</text>
<text x="657.6" y="1182.0">100</text>
<text x="771.0" y="1182.0">110</text>
<text x="883.0" y="1182.0">120</text>
<text x="1004.8" y="1182.0">130</text>
<text x="1117.6" y="1182.7">140</text>
<text x="1231.5" y="1182.7">150</text>
<text x="1354.6" y="1182.0">160</text>
<text x="1468.3" y="1182.0">170</text>
</g>
<text id="xtitle" x="727.1" y="1257.9">Mileage/m</text>
<text id="ytitle" transform="translate(94.4 955.8) rotate(-90)" textLength="768" lengthAdjust="spacing">Accumulated uplift deformation/m</text>
</svg>
</body>
</html>
